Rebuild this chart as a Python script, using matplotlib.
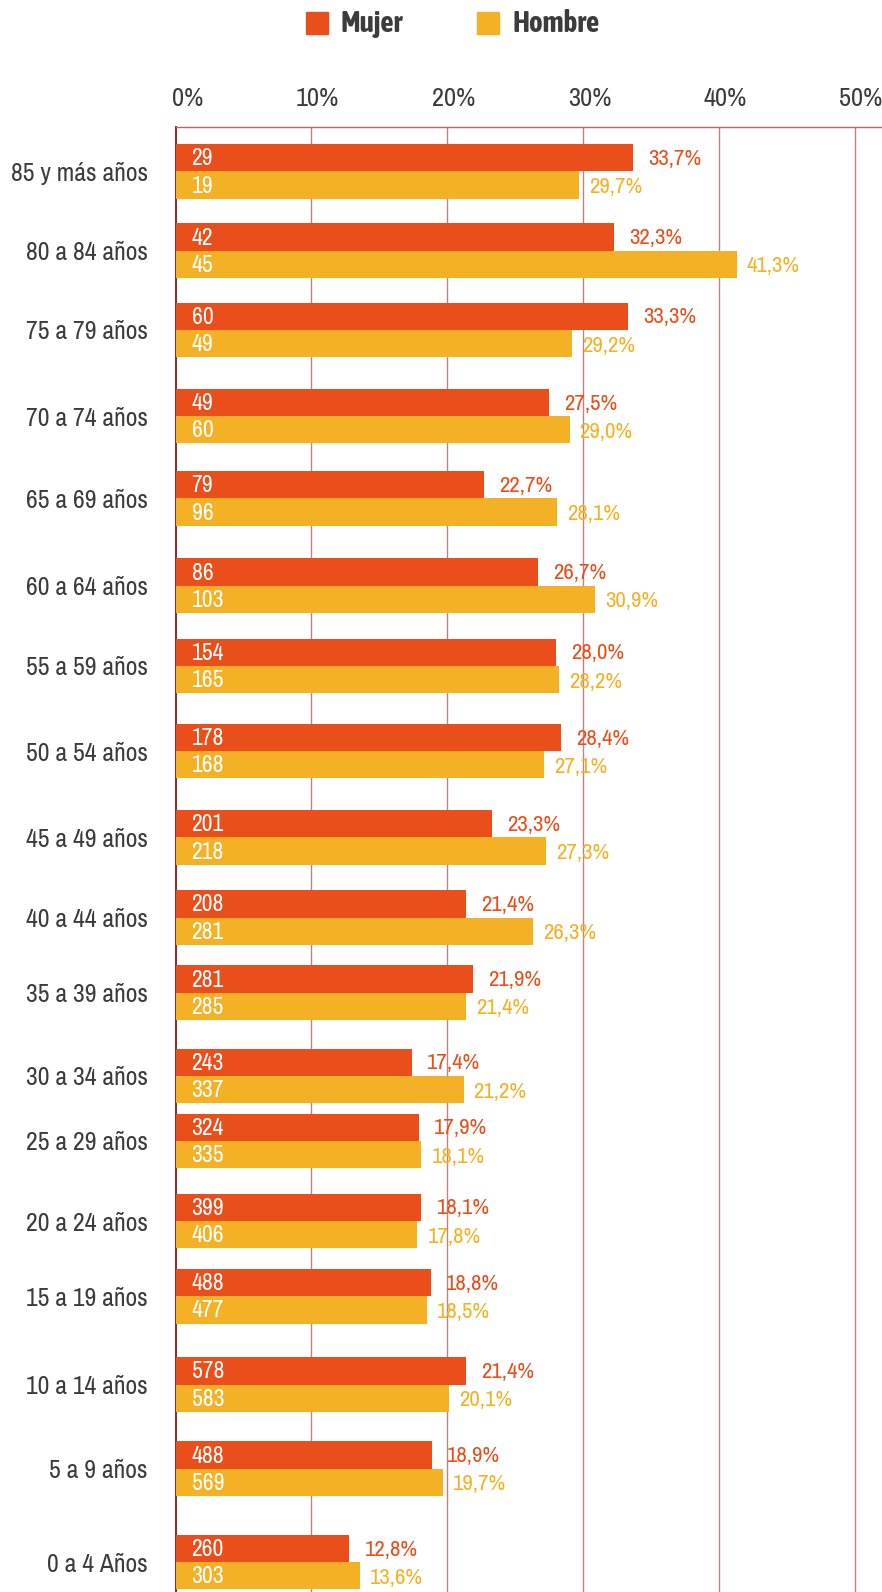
import matplotlib
matplotlib.use("Agg")
import matplotlib.pyplot as plt
import matplotlib.transforms as mtransforms
import matplotlib.patheffects as pe
from matplotlib import font_manager as fm
from matplotlib.patches import Rectangle

# narrow faces: first one for body text, one with a bold weight for the legend
fonts = fm.fontManager.ttflist
narrow = sorted({f.name for f in fonts if "Condensed" in f.name or "Narrow" in f.name})
has_bold = [n for n in narrow
            if any(f.name == n and f.weight in (600, 700, "bold", "semibold") for f in fonts)]
if narrow:
    plt.rcParams['font.family'] = [narrow[0], 'DejaVu Sans']
else:
    plt.rcParams['font.family'] = ['DejaVu Sans']
    plt.rcParams['font.stretch'] = 'condensed'
legend_family = [has_bold[0], 'DejaVu Sans'] if has_bold else plt.rcParams['font.family']
fake_bold = not has_bold

categories = ["85 y más años", "80 a 84 años", "75 a 79 años", "70 a 74 años",
              "65 a 69 años", "60 a 64 años", "55 a 59 años", "50 a 54 años",
              "45 a 49 años", "40 a 44 años", "35 a 39 años", "30 a 34 años",
              "25 a 29 años", "20 a 24 años", "15 a 19 años", "10 a 14 años",
              "5 a 9 años", "0 a 4 Años"]
mujer_n = [29, 42, 60, 49, 79, 86, 154, 178, 201, 208, 281, 243, 324, 399, 488, 578, 488, 260]
hombre_n = [19, 45, 49, 60, 96, 103, 165, 168, 218, 281, 285, 337, 335, 406, 477, 583, 569, 303]
mujer_pct = [33.7, 32.3, 33.3, 27.5, 22.7, 26.7, 28.0, 28.4, 23.3, 21.4, 21.9, 17.4,
             17.9, 18.1, 18.8, 21.4, 18.9, 12.8]
hombre_pct = [29.7, 41.3, 29.2, 29.0, 28.1, 30.9, 28.2, 27.1, 27.3, 26.3, 21.4, 21.2,
              18.1, 17.8, 18.5, 20.1, 19.7, 13.6]
ticks = [0, 10, 20, 30, 40, 50]

# layout: group centres in pixel rows (the source spaces them unevenly)
group_y = [171.5, 250.7, 329.9, 416.2, 498.4, 585.7, 665.9, 751.2, 837.4, 917.6,
           992.7, 1076.0, 1140.9, 1221.1, 1296.3, 1384.6, 1468.8, 1562.2]
bar_h = 27.3

c_m = "#E94E1B"
c_h = "#F5B125"
c_txt = "#3C3C3C"

W, H = 882, 1592
fig = plt.figure(figsize=(W / 100, H / 100), dpi=100)
top = 127
left = 175.6
ax = fig.add_axes([left / W, 0, 1 - left / W, 1 - top / H])
ax.set_xlim(0, 52)
ax.set_ylim(H, top)

y_m = [y - bar_h / 2 for y in group_y]
y_h = [y + bar_h / 2 for y in group_y]
ax.barh(y_m, mujer_pct, height=bar_h, color=c_m, zorder=3)
ax.barh(y_h, hombre_pct, height=bar_h, color=c_h, zorder=3)

px = 52 / (W - left)  # data units per pixel
for i in range(len(categories)):
    ax.text(16 * px, y_m[i] + 1, str(mujer_n[i]), color="white", fontsize=17,
            va="center", ha="left", zorder=4)
    ax.text(16 * px, y_h[i] + 1, str(hombre_n[i]), color="white", fontsize=17,
            va="center", ha="left", zorder=4)
    ax.text(mujer_pct[i] + 15 * px, y_m[i] + 1, f"{mujer_pct[i]:.1f}%".replace(".", ","),
            color=c_m, fontsize=16.5, va="center", ha="left", zorder=4)
    ax.text(hombre_pct[i] + 10 * px, y_h[i] + 2, f"{hombre_pct[i]:.1f}%".replace(".", ","),
            color=c_h, fontsize=16.5, va="center", ha="left", zorder=4)

ax.set_yticks(group_y)
ax.set_yticklabels(categories, fontsize=18.5, color=c_txt)
ax.tick_params(axis="y", length=0, pad=20)

ax.xaxis.tick_top()
ax.set_xticks(ticks)
ax.set_xticklabels([f"{t}%" for t in ticks], fontsize=19, color=c_txt)
ax.tick_params(axis="x", length=0, pad=12)
offset = mtransforms.ScaledTranslation(28 / 100, 0, fig.dpi_scale_trans)
for lab in ax.get_xticklabels():
    lab.set_horizontalalignment("right")
    lab.set_transform(lab.get_transform() + offset)

for t in ticks[1:]:
    ax.axvline(t, color="#B98585", lw=1, zorder=1)

for s in ["right", "bottom"]:
    ax.spines[s].set_visible(False)
ax.spines["left"].set_color("#8B3030")
ax.spines["left"].set_linewidth(1.5)
ax.spines["top"].set_color("#A86A6A")
ax.spines["top"].set_linewidth(1)

# legend drawn by hand
for x0, col, name in [(306, c_m, "Mujer"), (477, c_h, "Hombre")]:
    fig.add_artist(Rectangle((x0 / W, 1 - 34 / H), 22 / W, 22 / H,
                             transform=fig.transFigure, color=col))
    t = fig.text((x0 + 35) / W, 1 - 23 / H, name, fontsize=21, fontweight="bold",
                 family=legend_family, color=c_txt, va="center", ha="left")
    if fake_bold:
        t.set_path_effects([pe.withStroke(linewidth=1.2, foreground=c_txt)])

fig.savefig("out.png", dpi=100)
